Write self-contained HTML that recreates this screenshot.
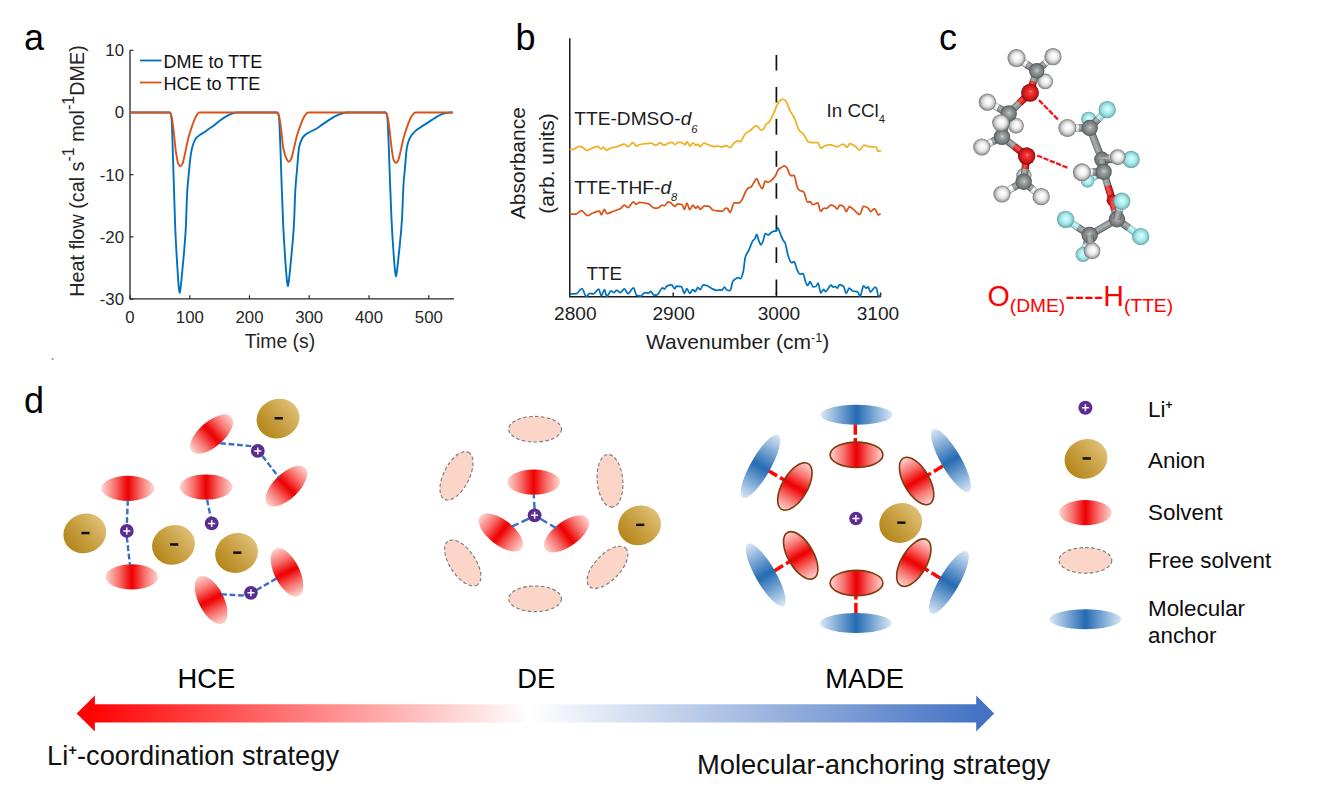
<!DOCTYPE html>
<html lang="en">
<head>
<meta charset="utf-8">
<title>Figure</title>
<style>
html,body{margin:0;padding:0;background:#fff;}
body{width:1320px;height:804px;overflow:hidden;position:relative;}
svg{position:absolute;left:0;top:0;display:block;}
svg text{font-family:"Liberation Sans", sans-serif;}
</style>
</head>
<body>
<svg width="1320" height="804" viewBox="0 0 1320 804">
<defs>
<radialGradient id="gH" cx="0.5" cy="0.5" r="0.5" fx="0.57" fy="0.43"><stop offset="0" stop-color="#ffffff"/><stop offset="0.32" stop-color="#f6f6f6"/><stop offset="0.58" stop-color="#e0e0e0"/><stop offset="0.78" stop-color="#bababa"/><stop offset="0.92" stop-color="#8e8e8e"/><stop offset="1" stop-color="#666666"/></radialGradient>
<radialGradient id="gC" cx="0.5" cy="0.5" r="0.5" fx="0.52" fy="0.47"><stop offset="0" stop-color="#f2f2f2"/><stop offset="0.09" stop-color="#b4b8b8"/><stop offset="0.45" stop-color="#8f9494"/><stop offset="0.78" stop-color="#757a7a"/><stop offset="1" stop-color="#505454"/></radialGradient>
<radialGradient id="gO" cx="0.5" cy="0.5" r="0.5" fx="0.55" fy="0.44"><stop offset="0" stop-color="#ffc0c0"/><stop offset="0.1" stop-color="#f64848"/><stop offset="0.45" stop-color="#e82424"/><stop offset="0.76" stop-color="#c61818"/><stop offset="0.92" stop-color="#9a1010"/><stop offset="1" stop-color="#700a0a"/></radialGradient>
<radialGradient id="gF" cx="0.5" cy="0.5" r="0.5" fx="0.53" fy="0.45"><stop offset="0" stop-color="#ffffff"/><stop offset="0.1" stop-color="#d2fbfb"/><stop offset="0.46" stop-color="#b0efef"/><stop offset="0.74" stop-color="#93d6d8"/><stop offset="0.9" stop-color="#76b9bc"/><stop offset="1" stop-color="#568f93"/></radialGradient>
<filter id="soft" x="-5%" y="-5%" width="110%" height="110%"><feGaussianBlur stdDeviation="0.65"/></filter>
<filter id="soft2" x="-10%" y="-10%" width="120%" height="120%"><feGaussianBlur stdDeviation="0.35"/></filter>
<linearGradient id="gRed" x1="0" y1="0" x2="1" y2="0"><stop offset="0" stop-color="#fdd6d0"/><stop offset="0.25" stop-color="#f87470"/><stop offset="0.485" stop-color="#ee0404"/><stop offset="0.515" stop-color="#ee0404"/><stop offset="0.75" stop-color="#f87470"/><stop offset="1" stop-color="#fdd6d0"/></linearGradient>
<linearGradient id="gBlu" x1="0" y1="0" x2="1" y2="0"><stop offset="0" stop-color="#dce8f5"/><stop offset="0.25" stop-color="#7eaad6"/><stop offset="0.485" stop-color="#296eb3"/><stop offset="0.515" stop-color="#296eb3"/><stop offset="0.75" stop-color="#7eaad6"/><stop offset="1" stop-color="#dce8f5"/></linearGradient>
<linearGradient id="gGold" x1="0.02" y1="0.64" x2="0.98" y2="0.36"><stop offset="0" stop-color="#b4861a"/><stop offset="0.5" stop-color="#c9a043"/><stop offset="1" stop-color="#dfc077"/></linearGradient>
<linearGradient id="gArrow" gradientUnits="userSpaceOnUse" x1="76" y1="0" x2="995" y2="0"><stop offset="0" stop-color="#ff0000"/><stop offset="0.02" stop-color="#ff0505"/><stop offset="0.494" stop-color="#ffffff"/><stop offset="0.98" stop-color="#4573c4"/><stop offset="1" stop-color="#4472c4"/></linearGradient>
</defs>
<rect x="0" y="0" width="1320" height="804" fill="#ffffff"/>
<g id="panelA">
<text x="24" y="49.5" font-size="36" text-anchor="start" fill="#000" >a</text>
<path d="M130,50.3 L130,298.8 L454,298.8" fill="none" stroke="#262626" stroke-width="1.3"/>
<line x1="130" y1="50.3" x2="133.5" y2="50.3" stroke="#262626" stroke-width="1.2"/>
<text x="124.0" y="56.2" font-size="16.8" text-anchor="end" fill="#262626" >10</text>
<line x1="130" y1="112.5" x2="133.5" y2="112.5" stroke="#262626" stroke-width="1.2"/>
<text x="124.0" y="118.4" font-size="16.8" text-anchor="end" fill="#262626" >0</text>
<line x1="130" y1="174.7" x2="133.5" y2="174.7" stroke="#262626" stroke-width="1.2"/>
<text x="124.0" y="180.6" font-size="16.8" text-anchor="end" fill="#262626" >-10</text>
<line x1="130" y1="236.9" x2="133.5" y2="236.9" stroke="#262626" stroke-width="1.2"/>
<text x="124.0" y="242.8" font-size="16.8" text-anchor="end" fill="#262626" >-20</text>
<line x1="130" y1="299.1" x2="133.5" y2="299.1" stroke="#262626" stroke-width="1.2"/>
<text x="124.0" y="305.0" font-size="16.8" text-anchor="end" fill="#262626" >-30</text>
<line x1="130.0" y1="298.8" x2="130.0" y2="295.3" stroke="#262626" stroke-width="1.2"/>
<text x="130.0" y="322.6" font-size="16.8" text-anchor="middle" fill="#262626" >0</text>
<line x1="189.8" y1="298.8" x2="189.8" y2="295.3" stroke="#262626" stroke-width="1.2"/>
<text x="189.8" y="322.6" font-size="16.8" text-anchor="middle" fill="#262626" >100</text>
<line x1="249.5" y1="298.8" x2="249.5" y2="295.3" stroke="#262626" stroke-width="1.2"/>
<text x="249.5" y="322.6" font-size="16.8" text-anchor="middle" fill="#262626" >200</text>
<line x1="309.2" y1="298.8" x2="309.2" y2="295.3" stroke="#262626" stroke-width="1.2"/>
<text x="309.2" y="322.6" font-size="16.8" text-anchor="middle" fill="#262626" >300</text>
<line x1="369.0" y1="298.8" x2="369.0" y2="295.3" stroke="#262626" stroke-width="1.2"/>
<text x="369.0" y="322.6" font-size="16.8" text-anchor="middle" fill="#262626" >400</text>
<line x1="428.8" y1="298.8" x2="428.8" y2="295.3" stroke="#262626" stroke-width="1.2"/>
<text x="428.8" y="322.6" font-size="16.8" text-anchor="middle" fill="#262626" >500</text>
<text x="280" y="347.6" font-size="19.4" text-anchor="middle" fill="#262626" >Time (s)</text>
<text transform="translate(83.5,171) rotate(-90)" font-size="19.8" text-anchor="middle" fill="#262626">Heat flow (cal s<tspan font-size="16" dy="-9.6">-1</tspan><tspan dy="9.6"> mol</tspan><tspan font-size="16" dy="-9.6">-1</tspan><tspan dy="9.6">DME)</tspan></text>
<path d="M130.0,112.5 C143.3,112.5 156.5,112.5 169.8,112.5 C170.2,112.5 170.6,113.4 171.1,114.7 C171.3,115.4 171.5,117.7 171.7,120.5 C172.0,124.9 172.4,138.3 172.7,148.6 C173.0,158.0 173.4,170.1 173.7,180.0 C174.2,197.7 174.8,217.1 175.3,229.8 C176.0,245.6 176.7,256.7 177.4,267.7 C177.9,275.3 178.4,284.2 178.8,288.0 C179.1,290.3 179.4,293.0 179.7,293.0 C180.0,293.0 180.3,290.0 180.5,288.0 C181.2,283.1 181.9,275.1 182.6,267.7 C183.6,256.5 184.7,247.6 185.7,229.8 C186.2,221.2 186.7,199.8 187.2,191.9 C187.7,184.0 188.2,179.8 188.7,174.6 C189.4,167.3 190.1,159.2 190.8,154.7 C191.3,151.7 191.7,149.5 192.2,147.6 C192.7,145.7 193.1,144.3 193.6,143.0 C194.0,141.8 194.5,140.7 194.9,139.9 C195.5,138.9 196.0,138.1 196.6,137.5 C197.3,136.7 198.1,136.2 198.8,135.7 C199.7,135.0 200.7,134.5 201.6,133.9 C202.6,133.3 203.6,132.7 204.6,132.0 C205.6,131.3 206.6,130.5 207.6,129.8 C209.9,128.1 212.2,126.7 214.5,124.9 C216.3,123.5 218.2,121.7 220.0,120.4 C222.5,118.6 225.0,116.9 227.5,115.6 C229.2,114.7 230.8,113.8 232.5,113.3 C233.8,112.9 235.0,112.5 236.3,112.5 C250.0,112.5 263.6,112.5 277.3,112.5 C277.7,112.5 278.1,113.4 278.6,114.7 C278.8,115.4 279.0,117.8 279.2,120.5 C279.6,125.3 280.0,137.1 280.4,147.3 C280.7,156.0 281.1,168.0 281.4,177.5 C282.0,194.6 282.6,213.2 283.2,225.5 C284.0,240.7 284.7,251.7 285.4,262.0 C286.0,269.3 286.5,277.2 287.0,281.3 C287.3,283.5 287.6,286.3 287.9,286.3 C288.2,286.3 288.5,283.3 288.8,281.3 C289.4,276.5 290.1,269.1 290.8,262.0 C291.8,251.2 292.9,242.6 293.9,225.5 C294.4,217.2 294.9,197.0 295.4,189.0 C295.9,180.4 296.5,176.1 297.0,170.0 C297.7,162.4 298.3,151.7 299.0,148.0 C299.4,145.6 299.9,144.3 300.3,143.0 C300.7,141.7 301.2,140.6 301.6,139.7 C302.0,138.8 302.5,138.0 302.9,137.4 C303.4,136.6 304.0,136.0 304.5,135.5 C305.2,134.8 305.9,134.3 306.6,133.8 C307.5,133.2 308.3,132.8 309.2,132.3 C311.6,131.0 313.9,130.2 316.3,128.8 C318.4,127.6 320.4,125.8 322.5,124.4 C325.0,122.7 327.5,120.9 330.0,119.4 C332.5,117.9 335.0,116.3 337.5,115.2 C339.3,114.4 341.0,113.6 342.8,113.2 C344.1,112.9 345.5,112.5 346.8,112.5 C359.8,112.5 372.7,112.5 385.7,112.5 C386.1,112.5 386.5,113.4 386.9,114.7 C387.2,115.4 387.4,117.8 387.6,120.5 C388.0,125.1 388.3,135.9 388.7,145.3 C389.0,153.6 389.4,164.8 389.7,173.8 C390.3,189.9 390.9,207.5 391.5,219.1 C392.2,233.4 392.9,243.8 393.6,253.5 C394.1,260.4 394.6,267.6 395.1,271.5 C395.4,273.7 395.7,276.5 396.0,276.5 C396.3,276.5 396.6,273.4 396.9,271.5 C397.5,266.8 398.2,260.2 398.9,253.5 C399.9,243.5 401.0,235.2 402.0,219.1 C402.5,211.3 403.0,192.1 403.5,184.7 C404.0,177.2 404.5,173.7 405.0,168.0 C405.5,162.0 406.1,153.2 406.6,149.5 C406.9,147.2 407.3,145.7 407.6,144.4 C408.0,142.9 408.3,141.8 408.7,140.8 C409.1,139.7 409.5,138.8 409.9,138.0 C410.4,137.0 410.9,136.2 411.4,135.5 C412.2,134.4 413.0,133.4 413.8,132.6 C414.9,131.4 416.1,130.5 417.2,129.6 C420.5,127.1 423.7,125.2 427.0,123.1 C429.5,121.5 432.0,119.7 434.5,118.2 C437.0,116.7 439.4,115.0 441.9,114.1 C443.2,113.6 444.5,113.2 445.8,113.0 C447.1,112.8 448.5,112.5 449.8,112.5 C450.8,112.5 451.7,112.5 452.7,112.5" fill="none" stroke="#0072BD" stroke-width="1.9" stroke-linejoin="round"/>
<path d="M130.0,112.5 C143.3,112.5 156.5,112.5 169.8,112.5 C170.5,112.5 171.1,115.3 171.8,117.9 C172.3,120.0 172.9,124.5 173.4,128.6 C174.2,134.8 175.0,145.9 175.8,151.2 C176.6,156.3 177.3,161.3 178.1,163.1 C178.8,164.7 179.6,166.3 180.3,166.3 C181.0,166.3 181.8,165.0 182.5,163.6 C183.3,162.2 184.0,157.7 184.8,154.5 C186.0,149.5 187.1,142.8 188.3,138.3 C189.6,133.2 191.0,129.1 192.3,125.4 C193.5,122.2 194.6,118.8 195.8,116.8 C196.9,114.9 198.1,112.5 199.2,112.5 C225.2,112.5 251.3,112.5 277.3,112.5 C278.0,112.5 278.6,115.0 279.3,117.4 C279.8,119.3 280.4,123.5 280.9,127.3 C281.7,133.0 282.5,144.1 283.3,148.0 C284.4,153.4 285.5,156.8 286.6,158.8 C287.3,160.2 288.1,161.8 288.8,161.8 C289.5,161.8 290.3,160.6 291.0,159.3 C291.8,158.0 292.5,153.9 293.3,151.0 C294.5,146.4 295.6,140.2 296.8,136.2 C298.1,131.5 299.5,127.7 300.8,124.3 C302.0,121.4 303.1,118.2 304.3,116.4 C305.5,114.7 306.7,112.5 307.9,112.5 C333.8,112.5 359.8,112.5 385.7,112.5 C386.4,112.5 387.0,115.1 387.7,117.5 C388.2,119.5 388.8,123.8 389.3,127.7 C390.1,133.5 390.9,143.4 391.7,148.9 C392.4,153.4 393.0,158.5 393.7,160.0 C394.4,161.6 395.2,163.0 395.9,163.0 C396.6,163.0 397.4,161.8 398.1,160.5 C398.9,159.1 399.6,154.9 400.4,151.9 C401.6,147.2 402.7,140.9 403.9,136.7 C405.2,132.0 406.6,128.1 407.9,124.6 C409.1,121.6 410.2,118.1 411.4,116.5 C412.8,114.6 414.2,112.5 415.6,112.5 C428.0,112.5 440.3,112.5 452.7,112.5" fill="none" stroke="#D95319" stroke-width="1.9" stroke-linejoin="round"/>
<line x1="140" y1="60.5" x2="161.5" y2="60.5" stroke="#0072BD" stroke-width="1.8"/>
<line x1="140" y1="82.5" x2="161.5" y2="82.5" stroke="#D95319" stroke-width="1.8"/>
<text x="163.5" y="67.5" font-size="18.0" text-anchor="start" fill="#111" >DME to TTE</text>
<text x="163.5" y="89.5" font-size="18.0" text-anchor="start" fill="#111" >HCE to TTE</text>
<rect x="51.5" y="358.6" width="2.2" height="0.9" fill="#3b4a8a"/>
</g>
<g id="panelB">
<text x="515.5" y="49.6" font-size="36" text-anchor="start" fill="#000" >b</text>
<path d="M569.8,38.3 L569.8,296.8 L880.6,296.8" fill="none" stroke="#1a1a1a" stroke-width="1.5"/>
<line x1="673.2" y1="296.8" x2="673.2" y2="292.5" stroke="#1a1a1a" stroke-width="1.4"/>
<line x1="776.4" y1="296.8" x2="776.4" y2="292.5" stroke="#1a1a1a" stroke-width="1.4"/>
<line x1="880.6" y1="296.8" x2="880.6" y2="292.5" stroke="#1a1a1a" stroke-width="1.4"/>
<line x1="776.4" y1="54.9" x2="776.4" y2="296.8" stroke="#111" stroke-width="1.7" stroke-dasharray="15.6 16.47"/>
<path d="M570.5,149.7 C571.7,149.5 572.8,149.5 574.0,149.2 C575.7,148.8 577.3,146.3 579.0,146.3 C580.0,146.3 581.0,146.5 582.0,146.8 C583.7,147.2 585.3,150.6 587.0,150.6 C588.7,150.6 590.3,148.8 592.0,148.2 C594.0,147.4 596.0,146.3 598.0,146.3 C599.0,146.3 600.0,149.2 601.0,149.2 C601.8,149.2 602.7,147.2 603.5,147.2 C604.5,147.2 605.5,150.2 606.5,150.2 C608.0,150.2 609.5,148.4 611.0,148.0 C612.7,147.5 614.3,147.4 616.0,147.0 C617.3,146.7 618.7,146.1 620.0,145.6 C621.3,145.1 622.7,144.2 624.0,144.2 C625.3,144.2 626.7,146.5 628.0,146.5 C629.7,146.5 631.3,142.6 633.0,142.6 C634.0,142.6 635.0,146.0 636.0,146.0 C637.3,146.0 638.7,144.8 640.0,144.5 C642.0,144.1 644.0,143.8 646.0,143.6 C647.7,143.4 649.3,143.2 651.0,143.2 C652.7,143.2 654.3,145.3 656.0,145.3 C657.3,145.3 658.7,142.8 660.0,142.8 C661.3,142.8 662.7,145.2 664.0,145.2 C665.7,145.2 667.3,143.3 669.0,142.9 C670.0,142.6 671.0,142.3 672.0,142.3 C673.0,142.3 674.0,144.6 675.0,144.6 C676.0,144.6 677.0,142.4 678.0,142.4 C679.3,142.4 680.7,142.5 682.0,142.6 C683.0,142.7 684.0,144.8 685.0,144.8 C685.7,144.8 686.3,141.5 687.0,141.5 C688.0,141.5 689.0,146.2 690.0,146.2 C691.0,146.2 692.0,142.9 693.0,142.9 C694.0,142.9 695.0,145.3 696.0,145.3 C696.7,145.3 697.3,144.0 698.0,144.0 C698.7,144.0 699.3,146.6 700.0,146.6 C701.3,146.6 702.7,143.2 704.0,143.2 C705.7,143.2 707.3,144.5 709.0,145.0 C710.7,145.5 712.3,146.5 714.0,146.5 C715.7,146.5 717.3,146.2 719.0,146.2 C719.7,146.2 720.3,147.0 721.0,147.0 C722.7,147.0 724.3,145.7 726.0,145.7 C727.2,145.7 728.5,147.5 729.7,147.5 C731.5,147.5 733.2,143.3 735.0,142.2 C736.0,141.6 737.0,140.7 738.0,140.7 C738.7,140.7 739.3,141.9 740.0,141.9 C741.8,141.9 743.6,135.3 745.4,133.7 C747.1,132.1 748.9,131.5 750.6,130.3 C752.6,128.9 754.6,125.5 756.6,125.5 C758.1,125.5 759.5,130.0 761.0,130.0 C761.8,130.0 762.5,129.7 763.3,129.3 C764.3,128.8 765.3,124.7 766.3,123.9 C767.0,123.3 767.8,123.3 768.5,122.8 C770.2,121.5 772.0,116.7 773.7,113.1 C775.0,110.5 776.2,106.2 777.5,104.2 C778.7,102.2 780.0,100.1 781.2,99.7 C781.9,99.5 782.7,99.3 783.4,99.3 C784.2,99.3 784.9,100.1 785.7,100.9 C787.2,102.4 788.6,108.1 790.1,110.9 C791.6,113.8 793.1,115.3 794.6,118.4 C795.9,121.0 797.1,126.6 798.4,128.8 C799.1,130.1 799.9,131.1 800.6,131.8 C801.3,132.5 802.1,132.6 802.8,133.3 C804.5,134.9 806.3,140.7 808.0,141.5 C809.5,142.2 811.0,142.7 812.5,142.7 C814.3,142.7 816.0,142.7 817.8,142.7 C818.8,142.7 819.7,148.2 820.7,148.2 C822.0,148.2 823.2,146.5 824.5,146.0 C826.5,145.3 828.4,144.5 830.4,144.5 C831.6,144.5 832.8,145.7 834.0,146.0 C835.1,146.3 836.1,146.7 837.2,146.7 C839.2,146.7 841.1,144.0 843.1,144.0 C844.4,144.0 845.6,147.2 846.9,147.2 C847.9,147.2 848.9,143.7 849.9,143.7 C851.6,143.7 853.3,145.0 855.0,146.0 C856.5,146.9 858.1,150.0 859.6,150.0 C861.1,150.0 862.5,145.2 864.0,145.2 C865.8,145.2 867.5,146.6 869.3,146.7 C871.5,146.9 873.8,146.8 876.0,147.0 C876.7,147.1 877.5,151.2 878.2,151.2 C878.9,151.2 879.7,151.1 880.4,151.0" fill="none" stroke="#EDB120" stroke-width="1.75" stroke-linejoin="round" stroke-linecap="round"/>
<path d="M570.5,214.2 C572.3,214.2 574.1,214.2 575.9,214.2 C577.7,214.2 579.6,210.6 581.4,210.6 C583.4,210.6 585.4,215.5 587.4,215.5 C589.2,215.5 591.1,213.6 592.9,213.0 C595.1,212.2 597.3,211.2 599.5,211.2 C600.1,211.2 600.8,214.8 601.4,214.8 C602.4,214.8 603.4,209.4 604.4,209.4 C605.2,209.4 606.0,213.6 606.8,213.6 C609.0,213.6 611.3,212.0 613.5,211.2 C615.7,210.4 618.0,210.0 620.2,208.8 C621.6,208.1 623.0,205.2 624.4,205.2 C625.6,205.2 626.8,207.6 628.0,207.6 C629.8,207.6 631.7,201.9 633.5,201.9 C634.3,201.9 635.1,204.3 635.9,204.3 C637.1,204.3 638.3,202.4 639.5,202.4 C642.5,202.4 645.6,203.1 648.6,203.9 C650.6,204.5 652.7,208.2 654.7,208.2 C655.8,208.2 656.9,208.1 658.0,208.0 C659.3,207.9 660.7,205.2 662.0,205.2 C662.8,205.2 663.6,205.8 664.4,205.8 C665.6,205.8 666.8,201.9 668.0,201.9 C669.0,201.9 670.0,202.5 671.0,203.0 C672.2,203.6 673.5,206.4 674.7,206.4 C675.7,206.4 676.7,203.9 677.7,203.9 C679.1,203.9 680.6,204.1 682.0,204.5 C682.8,204.7 683.6,209.4 684.4,209.4 C685.2,209.4 686.0,203.1 686.8,203.1 C687.8,203.1 688.8,209.6 689.8,209.6 C690.8,209.6 691.9,205.2 692.9,205.2 C693.9,205.2 694.9,208.2 695.9,208.2 C696.5,208.2 697.1,206.0 697.7,206.0 C698.5,206.0 699.4,209.4 700.2,209.4 C701.6,209.4 703.0,205.8 704.4,205.8 C706.0,205.8 707.6,206.0 709.2,206.4 C710.4,206.7 711.7,209.6 712.9,210.0 C714.3,210.4 715.6,210.6 717.0,210.8 C718.5,211.0 719.9,211.2 721.4,211.2 C721.8,211.2 722.2,211.2 722.6,211.2 C723.7,211.2 724.7,208.0 725.8,208.0 C726.4,208.0 727.1,208.3 727.7,208.6 C728.5,209.0 729.2,212.5 730.0,212.5 C731.4,212.5 732.8,202.8 734.2,202.8 C735.9,202.8 737.6,202.8 739.3,202.8 C740.4,202.8 741.4,200.6 742.5,198.9 C743.6,197.1 744.7,192.9 745.8,191.2 C746.9,189.6 747.9,188.0 749.0,187.6 C749.6,187.3 750.3,187.4 750.9,187.1 C751.8,186.7 752.6,184.5 753.5,183.2 C754.6,181.6 755.6,178.6 756.7,178.6 C757.6,178.6 758.4,182.5 759.3,184.1 C760.3,185.8 761.2,188.6 762.2,188.6 C763.2,188.6 764.3,181.2 765.3,181.2 C766.3,181.2 767.3,182.2 768.3,182.2 C769.4,182.2 770.4,181.1 771.5,180.3 C772.8,179.3 774.1,177.8 775.4,175.8 C776.3,174.5 777.1,171.0 778.0,170.0 C778.8,169.0 779.7,168.6 780.5,168.0 C781.8,167.1 783.1,165.8 784.4,165.8 C785.3,165.8 786.1,167.0 787.0,168.0 C788.1,169.3 789.1,174.5 790.2,175.1 C790.8,175.5 791.5,175.8 792.1,175.8 C792.7,175.8 793.4,175.1 794.0,175.1 C795.1,175.1 796.2,185.2 797.3,187.3 C798.1,188.9 799.0,190.1 799.8,190.6 C801.1,191.3 802.4,191.1 803.7,191.9 C805.0,192.7 806.3,202.2 807.6,202.2 C808.4,202.2 809.3,201.5 810.1,201.5 C811.0,201.5 811.8,204.7 812.7,204.7 C814.4,204.7 816.2,202.8 817.9,202.8 C818.8,202.8 819.6,211.2 820.5,211.2 C821.8,211.2 823.0,208.0 824.3,208.0 C824.9,208.0 825.6,208.6 826.2,208.6 C827.7,208.6 829.3,205.1 830.8,205.1 C832.1,205.1 833.3,205.7 834.6,206.4 C835.5,206.9 836.3,209.0 837.2,209.0 C838.1,209.0 838.9,205.1 839.8,205.1 C841.1,205.1 842.3,205.6 843.6,206.4 C844.5,206.9 845.3,211.6 846.2,211.6 C847.3,211.6 848.3,206.7 849.4,206.7 C850.9,206.7 852.4,208.8 853.9,209.9 C855.8,211.3 857.8,214.4 859.7,214.4 C861.0,214.4 862.3,206.4 863.6,206.4 C865.1,206.4 866.6,207.1 868.1,208.0 C869.0,208.5 869.8,211.6 870.7,211.6 C872.0,211.6 873.2,208.6 874.5,208.6 C875.8,208.6 877.1,214.8 878.4,214.8 C878.9,214.8 879.5,214.3 880.0,214.1" fill="none" stroke="#D95319" stroke-width="1.75" stroke-linejoin="round" stroke-linecap="round"/>
<path d="M570.5,293.9 C572.5,293.8 574.5,293.8 576.5,293.7 C578.3,293.6 580.2,288.5 582.0,288.5 C583.4,288.5 584.8,296.4 586.2,296.4 C587.4,296.4 588.6,293.3 589.8,293.3 C591.0,293.3 592.3,293.9 593.5,293.9 C595.2,293.9 597.0,289.1 598.7,289.1 C599.6,289.1 600.5,295.8 601.4,295.8 C602.4,295.8 603.4,289.7 604.4,289.7 C605.2,289.7 606.0,296.4 606.8,296.4 C608.2,296.4 609.6,290.9 611.0,290.9 C612.0,290.9 613.1,292.7 614.1,292.7 C614.9,292.7 615.7,290.0 616.5,290.0 C617.7,290.0 619.0,292.7 620.2,292.7 C621.6,292.7 623.0,288.8 624.4,288.8 C625.6,288.8 626.8,293.7 628.0,293.7 C629.8,293.7 631.7,287.9 633.5,287.9 C634.5,287.9 635.5,294.8 636.5,295.2 C637.9,295.8 639.4,296.1 640.8,296.1 C642.2,296.1 643.6,292.5 645.0,292.5 C646.2,292.5 647.4,293.1 648.6,293.1 C649.2,293.1 649.9,291.3 650.5,291.3 C651.7,291.3 652.9,295.2 654.1,295.2 C655.1,295.2 656.1,295.1 657.1,294.9 C658.9,294.6 660.8,287.9 662.6,287.9 C663.2,287.9 663.8,289.1 664.4,289.1 C665.2,289.1 666.0,286.5 666.8,286.1 C668.4,285.3 670.1,284.8 671.7,284.8 C672.7,284.8 673.7,288.8 674.7,288.8 C675.3,288.8 675.9,286.1 676.5,286.1 C678.1,286.1 679.8,286.3 681.4,286.7 C682.4,286.9 683.4,293.3 684.4,293.3 C685.2,293.3 686.0,288.5 686.8,288.5 C687.8,288.5 688.8,293.3 689.8,293.3 C690.8,293.3 691.9,289.7 692.9,289.7 C693.7,289.7 694.5,291.5 695.3,291.5 C696.1,291.5 696.9,287.3 697.7,287.3 C698.5,287.3 699.4,289.7 700.2,289.7 C701.2,289.7 702.2,284.8 703.2,284.8 C704.4,284.8 705.6,285.2 706.8,285.5 C708.4,286.0 710.1,287.7 711.7,288.5 C713.3,289.2 714.9,290.3 716.5,290.3 C717.3,290.3 718.2,289.8 719.0,289.8 C720.0,289.8 720.9,290.1 721.9,290.1 C722.8,290.1 723.6,287.1 724.5,287.1 C725.1,287.1 725.8,289.4 726.4,289.7 C727.6,290.3 728.8,290.7 730.0,290.7 C731.0,290.7 731.9,282.6 732.9,281.3 C733.8,280.1 734.6,279.6 735.5,279.0 C736.3,278.4 737.2,277.5 738.0,277.5 C738.9,277.5 739.7,278.7 740.6,278.7 C741.5,278.7 742.3,275.1 743.2,271.7 C743.9,268.8 744.7,259.2 745.4,256.9 C746.6,253.1 747.8,252.4 749.0,249.8 C750.3,247.1 751.5,242.5 752.8,240.8 C753.5,239.9 754.1,239.7 754.8,238.8 C755.4,237.9 756.1,234.3 756.7,234.3 C757.3,234.3 758.0,238.6 758.6,240.1 C759.4,242.0 760.2,244.9 761.0,244.9 C761.7,244.9 762.4,242.5 763.1,240.8 C763.8,239.0 764.6,233.7 765.3,233.7 C766.3,233.7 767.3,235.0 768.3,235.0 C769.2,235.0 770.0,233.4 770.9,232.8 C772.0,232.1 773.0,231.1 774.1,231.1 C774.8,231.1 775.6,231.1 776.3,231.1 C776.8,231.1 777.2,227.9 777.7,227.9 C778.6,227.9 779.6,232.2 780.5,234.3 C781.4,236.3 782.2,238.6 783.1,240.1 C783.7,241.2 784.4,241.5 785.0,242.7 C786.1,244.9 787.2,253.2 788.3,256.2 C789.4,259.1 790.4,262.7 791.5,262.7 C792.3,262.7 793.2,261.6 794.0,261.6 C795.1,261.6 796.2,268.3 797.3,270.4 C798.1,272.0 799.0,274.2 799.8,274.2 C800.9,274.2 802.0,273.6 803.1,273.6 C803.9,273.6 804.8,280.1 805.6,282.0 C806.3,283.5 806.9,285.6 807.6,285.6 C808.4,285.6 809.3,281.7 810.1,281.7 C811.1,281.7 812.0,286.9 813.0,286.9 C814.0,286.9 814.9,286.8 815.9,286.5 C816.6,286.3 817.4,283.0 818.1,283.0 C819.0,283.0 819.8,292.9 820.7,292.9 C821.7,292.9 822.7,289.4 823.7,289.4 C824.3,289.4 825.0,291.6 825.6,291.6 C827.4,291.6 829.2,285.2 831.0,285.2 C831.8,285.2 832.5,287.1 833.3,287.1 C834.0,287.1 834.6,286.5 835.3,286.5 C835.9,286.5 836.6,288.1 837.2,288.1 C838.1,288.1 838.9,284.5 839.8,284.5 C841.1,284.5 842.3,285.3 843.6,286.5 C844.5,287.3 845.3,293.3 846.2,293.3 C847.2,293.3 848.2,288.1 849.2,288.1 C850.3,288.1 851.5,290.6 852.6,291.0 C854.3,291.6 856.1,291.3 857.8,292.0 C858.6,292.3 859.3,296.4 860.1,296.4 C861.3,296.4 862.4,285.8 863.6,285.8 C864.5,285.8 865.3,288.1 866.2,288.1 C866.8,288.1 867.5,286.9 868.1,286.9 C868.9,286.9 869.6,292.0 870.4,292.0 C872.0,292.0 873.6,287.1 875.2,287.1 C875.6,287.1 876.1,287.7 876.5,288.4 C877.1,289.4 877.8,296.1 878.4,296.1 C879.0,296.1 879.5,295.7 880.1,295.5" fill="none" stroke="#0072BD" stroke-width="1.75" stroke-linejoin="round" stroke-linecap="round"/>
<text x="574.3" y="125.4" font-size="19.15" fill="#1d1d1d">TTE-DMSO-<tspan font-style="italic">d</tspan><tspan font-style="italic" font-size="11.4" dy="7.2">6</tspan></text>
<text x="574.3" y="193.9" font-size="19.15" fill="#1d1d1d">TTE-THF-<tspan font-style="italic">d</tspan><tspan font-style="italic" font-size="11.2" dy="7.0">8</tspan></text>
<text x="586.6" y="279.6" font-size="18.8" text-anchor="start" fill="#1d1d1d" >TTE</text>
<text x="826.6" y="116.9" font-size="18.8" fill="#1d1d1d">In CCl<tspan font-size="11.3" dy="5.9">4</tspan></text>
<text x="575.3" y="320.1" font-size="19.1" text-anchor="middle" fill="#1d1d1d" >2800</text>
<text x="673.7" y="320.1" font-size="19.1" text-anchor="middle" fill="#1d1d1d" >2900</text>
<text x="778.9" y="320.1" font-size="19.1" text-anchor="middle" fill="#1d1d1d" >3000</text>
<text x="878.0" y="320.1" font-size="19.1" text-anchor="middle" fill="#1d1d1d" >3100</text>
<text x="737.6" y="348.9" font-size="21" text-anchor="middle" fill="#1d1d1d">Wavenumber (cm<tspan font-size="12.5" dy="-7.4">-1</tspan><tspan dy="7.4">)</tspan></text>
<text transform="translate(525.2,163.2) rotate(-90)" font-size="21" text-anchor="middle" fill="#1d1d1d">Absorbance</text>
<text transform="translate(554.1,163.5) rotate(-90)" font-size="21" text-anchor="middle" fill="#1d1d1d">(arb. units)</text>
</g>
<g id="panelC">
<text x="939" y="49.5" font-size="36" text-anchor="start" fill="#000" >c</text>
<g filter="url(#soft)">
<line x1="1036.7" y1="70.8" x2="1041.0" y2="76.1" stroke="#5e6262" stroke-width="7.4"/><line x1="1036.5" y1="71.0" x2="1040.7" y2="76.3" stroke="#8d9292" stroke-width="5.9"/><line x1="1036.2" y1="71.2" x2="1040.4" y2="76.5" stroke="#a6abab" stroke-width="2.8000000000000007"/><line x1="1041.0" y1="76.1" x2="1045.2" y2="81.4" stroke="#a4a4a4" stroke-width="7.4"/><line x1="1040.7" y1="76.3" x2="1045.0" y2="81.6" stroke="#e6e6e6" stroke-width="5.9"/><line x1="1040.4" y1="76.5" x2="1044.7" y2="81.8" stroke="#fbfbfb" stroke-width="2.8000000000000007"/>
<circle cx="1045.2" cy="81.4" r="7.8" fill="url(#gH)"/>
<line x1="1016.5" y1="58.1" x2="1026.6" y2="64.5" stroke="#a4a4a4" stroke-width="7.4"/><line x1="1016.6" y1="57.9" x2="1026.7" y2="64.2" stroke="#e6e6e6" stroke-width="5.9"/><line x1="1016.9" y1="57.5" x2="1027.0" y2="63.9" stroke="#fbfbfb" stroke-width="2.8000000000000007"/><line x1="1026.6" y1="64.5" x2="1036.7" y2="70.8" stroke="#5e6262" stroke-width="7.4"/><line x1="1026.7" y1="64.2" x2="1036.8" y2="70.6" stroke="#8d9292" stroke-width="5.9"/><line x1="1027.0" y1="63.9" x2="1037.1" y2="70.2" stroke="#a6abab" stroke-width="2.8000000000000007"/>
<line x1="1053.0" y1="56.7" x2="1044.8" y2="63.8" stroke="#a4a4a4" stroke-width="7.4"/><line x1="1052.8" y1="56.5" x2="1044.7" y2="63.5" stroke="#e6e6e6" stroke-width="5.9"/><line x1="1052.5" y1="56.2" x2="1044.4" y2="63.2" stroke="#fbfbfb" stroke-width="2.8000000000000007"/><line x1="1044.8" y1="63.8" x2="1036.7" y2="70.8" stroke="#5e6262" stroke-width="7.4"/><line x1="1044.7" y1="63.5" x2="1036.5" y2="70.6" stroke="#8d9292" stroke-width="5.9"/><line x1="1044.4" y1="63.2" x2="1036.2" y2="70.3" stroke="#a6abab" stroke-width="2.8000000000000007"/>
<line x1="1036.7" y1="70.8" x2="1033.3" y2="81.8" stroke="#5e6262" stroke-width="7.4"/><line x1="1036.4" y1="70.7" x2="1033.1" y2="81.7" stroke="#8d9292" stroke-width="5.9"/><line x1="1036.0" y1="70.6" x2="1032.7" y2="81.6" stroke="#a6abab" stroke-width="2.8000000000000007"/><line x1="1033.3" y1="81.8" x2="1030.0" y2="92.8" stroke="#8e0c0c" stroke-width="7.4"/><line x1="1033.1" y1="81.7" x2="1029.7" y2="92.7" stroke="#e02626" stroke-width="5.9"/><line x1="1032.7" y1="81.6" x2="1029.3" y2="92.6" stroke="#f24a4a" stroke-width="2.8000000000000007"/>
<circle cx="1016.5" cy="58.1" r="9.0" fill="url(#gH)"/>
<circle cx="1053.0" cy="56.7" r="8.6" fill="url(#gH)"/>
<circle cx="1036.7" cy="70.8" r="7.7" fill="url(#gC)"/>
<line x1="1030.0" y1="92.8" x2="1019.4" y2="103.1" stroke="#8e0c0c" stroke-width="7.4"/><line x1="1029.8" y1="92.6" x2="1019.2" y2="102.9" stroke="#e02626" stroke-width="5.9"/><line x1="1029.5" y1="92.3" x2="1018.9" y2="102.6" stroke="#f24a4a" stroke-width="2.8000000000000007"/><line x1="1019.4" y1="103.1" x2="1008.7" y2="113.4" stroke="#5e6262" stroke-width="7.4"/><line x1="1019.2" y1="102.9" x2="1008.5" y2="113.2" stroke="#8d9292" stroke-width="5.9"/><line x1="1018.9" y1="102.6" x2="1008.2" y2="112.9" stroke="#a6abab" stroke-width="2.8000000000000007"/>
<circle cx="1030.0" cy="92.8" r="9.0" fill="url(#gO)"/>
<line x1="1008.7" y1="113.4" x2="1012.4" y2="119.6" stroke="#5e6262" stroke-width="7.4"/><line x1="1008.5" y1="113.5" x2="1012.1" y2="119.7" stroke="#8d9292" stroke-width="5.9"/><line x1="1008.1" y1="113.8" x2="1011.7" y2="119.9" stroke="#a6abab" stroke-width="2.8000000000000007"/><line x1="1012.4" y1="119.6" x2="1016.0" y2="125.7" stroke="#a4a4a4" stroke-width="7.4"/><line x1="1012.1" y1="119.7" x2="1015.8" y2="125.8" stroke="#e6e6e6" stroke-width="5.9"/><line x1="1011.7" y1="119.9" x2="1015.4" y2="126.1" stroke="#fbfbfb" stroke-width="2.8000000000000007"/>
<circle cx="1016.0" cy="125.7" r="7.8" fill="url(#gH)"/>
<line x1="987.4" y1="102.2" x2="998.0" y2="107.8" stroke="#a4a4a4" stroke-width="7.4"/><line x1="987.5" y1="102.0" x2="998.2" y2="107.6" stroke="#e6e6e6" stroke-width="5.9"/><line x1="987.7" y1="101.6" x2="998.4" y2="107.2" stroke="#fbfbfb" stroke-width="2.8000000000000007"/><line x1="998.0" y1="107.8" x2="1008.7" y2="113.4" stroke="#5e6262" stroke-width="7.4"/><line x1="998.2" y1="107.6" x2="1008.8" y2="113.2" stroke="#8d9292" stroke-width="5.9"/><line x1="998.4" y1="107.2" x2="1009.0" y2="112.8" stroke="#a6abab" stroke-width="2.8000000000000007"/>
<line x1="1008.7" y1="113.4" x2="1005.4" y2="125.2" stroke="#5e6262" stroke-width="7.4"/><line x1="1008.4" y1="113.3" x2="1005.1" y2="125.1" stroke="#8d9292" stroke-width="5.9"/><line x1="1008.0" y1="113.2" x2="1004.7" y2="125.0" stroke="#a6abab" stroke-width="2.8000000000000007"/><line x1="1005.4" y1="125.2" x2="1002.0" y2="136.9" stroke="#5e6262" stroke-width="7.4"/><line x1="1005.1" y1="125.1" x2="1001.7" y2="136.8" stroke="#8d9292" stroke-width="5.9"/><line x1="1004.7" y1="125.0" x2="1001.3" y2="136.7" stroke="#a6abab" stroke-width="2.8000000000000007"/>
<circle cx="987.4" cy="102.2" r="8.6" fill="url(#gH)"/>
<circle cx="1008.7" cy="113.4" r="8.2" fill="url(#gC)"/>
<line x1="1002.0" y1="136.9" x2="991.9" y2="141.9" stroke="#5e6262" stroke-width="7.4"/><line x1="1001.9" y1="136.6" x2="991.8" y2="141.7" stroke="#8d9292" stroke-width="5.9"/><line x1="1001.7" y1="136.3" x2="991.6" y2="141.3" stroke="#a6abab" stroke-width="2.8000000000000007"/><line x1="991.9" y1="141.9" x2="981.8" y2="147.0" stroke="#a4a4a4" stroke-width="7.4"/><line x1="991.8" y1="141.7" x2="981.7" y2="146.7" stroke="#e6e6e6" stroke-width="5.9"/><line x1="991.6" y1="141.3" x2="981.5" y2="146.4" stroke="#fbfbfb" stroke-width="2.8000000000000007"/>
<line x1="1002.0" y1="136.9" x2="1014.3" y2="146.4" stroke="#5e6262" stroke-width="7.4"/><line x1="1002.2" y1="136.7" x2="1014.5" y2="146.2" stroke="#8d9292" stroke-width="5.9"/><line x1="1002.4" y1="136.3" x2="1014.7" y2="145.9" stroke="#a6abab" stroke-width="2.8000000000000007"/><line x1="1014.3" y1="146.4" x2="1026.6" y2="156.0" stroke="#8e0c0c" stroke-width="7.4"/><line x1="1014.5" y1="146.2" x2="1026.8" y2="155.8" stroke="#e02626" stroke-width="5.9"/><line x1="1014.7" y1="145.9" x2="1027.0" y2="155.4" stroke="#f24a4a" stroke-width="2.8000000000000007"/>
<circle cx="1002.0" cy="136.9" r="8.2" fill="url(#gC)"/>
<circle cx="981.8" cy="147.0" r="8.6" fill="url(#gH)"/>
<circle cx="1000.8" cy="122.8" r="8.6" fill="url(#gH)"/>
<circle cx="1023.9" cy="175.6" r="7.6" fill="url(#gH)"/>
<line x1="1026.6" y1="156.0" x2="1025.2" y2="168.8" stroke="#8e0c0c" stroke-width="7.4"/><line x1="1026.3" y1="156.0" x2="1024.9" y2="168.8" stroke="#e02626" stroke-width="5.9"/><line x1="1025.9" y1="155.9" x2="1024.5" y2="168.8" stroke="#f24a4a" stroke-width="2.8000000000000007"/><line x1="1025.2" y1="168.8" x2="1023.7" y2="181.7" stroke="#5e6262" stroke-width="7.4"/><line x1="1024.9" y1="168.8" x2="1023.4" y2="181.7" stroke="#8d9292" stroke-width="5.9"/><line x1="1024.5" y1="168.8" x2="1023.0" y2="181.6" stroke="#a6abab" stroke-width="2.8000000000000007"/>
<circle cx="1026.6" cy="156.0" r="8.7" fill="url(#gO)"/>
<line x1="1023.7" y1="181.7" x2="1012.9" y2="187.8" stroke="#5e6262" stroke-width="7.4"/><line x1="1023.6" y1="181.5" x2="1012.7" y2="187.6" stroke="#8d9292" stroke-width="5.9"/><line x1="1023.4" y1="181.1" x2="1012.5" y2="187.2" stroke="#a6abab" stroke-width="2.8000000000000007"/><line x1="1012.9" y1="187.8" x2="1002.0" y2="194.0" stroke="#a4a4a4" stroke-width="7.4"/><line x1="1012.7" y1="187.6" x2="1001.9" y2="193.8" stroke="#e6e6e6" stroke-width="5.9"/><line x1="1012.5" y1="187.2" x2="1001.7" y2="193.4" stroke="#fbfbfb" stroke-width="2.8000000000000007"/>
<line x1="1023.7" y1="181.7" x2="1032.5" y2="189.2" stroke="#5e6262" stroke-width="7.4"/><line x1="1023.9" y1="181.5" x2="1032.6" y2="189.0" stroke="#8d9292" stroke-width="5.9"/><line x1="1024.2" y1="181.2" x2="1032.9" y2="188.7" stroke="#a6abab" stroke-width="2.8000000000000007"/><line x1="1032.5" y1="189.2" x2="1041.2" y2="196.7" stroke="#a4a4a4" stroke-width="7.4"/><line x1="1032.6" y1="189.0" x2="1041.4" y2="196.5" stroke="#e6e6e6" stroke-width="5.9"/><line x1="1032.9" y1="188.7" x2="1041.7" y2="196.2" stroke="#fbfbfb" stroke-width="2.8000000000000007"/>
<circle cx="1023.7" cy="181.7" r="8.2" fill="url(#gC)"/>
<circle cx="1002.0" cy="194.0" r="8.6" fill="url(#gH)"/>
<circle cx="1041.2" cy="196.7" r="8.6" fill="url(#gH)"/>
<line x1="1089.7" y1="128.0" x2="1089.2" y2="123.5" stroke="#5e6262" stroke-width="7.4"/><line x1="1089.4" y1="128.0" x2="1088.9" y2="123.6" stroke="#8d9292" stroke-width="5.9"/><line x1="1089.0" y1="128.1" x2="1088.5" y2="123.6" stroke="#a6abab" stroke-width="2.8000000000000007"/><line x1="1089.2" y1="123.5" x2="1088.6" y2="119.1" stroke="#73b4b9" stroke-width="7.4"/><line x1="1088.9" y1="123.6" x2="1088.3" y2="119.1" stroke="#a5e3e6" stroke-width="5.9"/><line x1="1088.5" y1="123.6" x2="1087.9" y2="119.2" stroke="#c4f4f5" stroke-width="2.8000000000000007"/>
<circle cx="1088.6" cy="119.1" r="7.4" fill="url(#gF)"/>
<line x1="1089.7" y1="128.0" x2="1098.5" y2="118.8" stroke="#5e6262" stroke-width="7.4"/><line x1="1089.5" y1="127.8" x2="1098.2" y2="118.7" stroke="#8d9292" stroke-width="5.9"/><line x1="1089.2" y1="127.5" x2="1097.9" y2="118.4" stroke="#a6abab" stroke-width="2.8000000000000007"/><line x1="1098.5" y1="118.8" x2="1107.2" y2="109.7" stroke="#73b4b9" stroke-width="7.4"/><line x1="1098.2" y1="118.7" x2="1107.0" y2="109.5" stroke="#a5e3e6" stroke-width="5.9"/><line x1="1097.9" y1="118.4" x2="1106.7" y2="109.2" stroke="#c4f4f5" stroke-width="2.8000000000000007"/>
<line x1="1089.7" y1="128.0" x2="1078.6" y2="128.0" stroke="#5e6262" stroke-width="7.4"/><line x1="1089.7" y1="127.7" x2="1078.6" y2="127.7" stroke="#8d9292" stroke-width="5.9"/><line x1="1089.7" y1="127.3" x2="1078.6" y2="127.3" stroke="#a6abab" stroke-width="2.8000000000000007"/><line x1="1078.6" y1="128.0" x2="1067.4" y2="128.0" stroke="#a4a4a4" stroke-width="7.4"/><line x1="1078.6" y1="127.7" x2="1067.4" y2="127.7" stroke="#e6e6e6" stroke-width="5.9"/><line x1="1078.6" y1="127.3" x2="1067.4" y2="127.3" stroke="#fbfbfb" stroke-width="2.8000000000000007"/>
<line x1="1089.7" y1="128.0" x2="1095.8" y2="143.7" stroke="#5e6262" stroke-width="7.4"/><line x1="1089.4" y1="128.1" x2="1095.6" y2="143.8" stroke="#8d9292" stroke-width="5.9"/><line x1="1089.0" y1="128.3" x2="1095.2" y2="144.0" stroke="#a6abab" stroke-width="2.8000000000000007"/><line x1="1095.8" y1="143.7" x2="1102.0" y2="159.4" stroke="#5e6262" stroke-width="7.4"/><line x1="1095.6" y1="143.8" x2="1101.7" y2="159.5" stroke="#8d9292" stroke-width="5.9"/><line x1="1095.2" y1="144.0" x2="1101.3" y2="159.7" stroke="#a6abab" stroke-width="2.8000000000000007"/>
<circle cx="1107.2" cy="109.7" r="8.6" fill="url(#gF)"/>
<circle cx="1089.7" cy="128.0" r="8.2" fill="url(#gC)"/>
<circle cx="1067.4" cy="128.0" r="9.0" fill="url(#gH)"/>
<line x1="1103.6" y1="171.7" x2="1095.5" y2="176.1" stroke="#5e6262" stroke-width="7.4"/><line x1="1103.5" y1="171.5" x2="1095.4" y2="175.9" stroke="#8d9292" stroke-width="5.9"/><line x1="1103.3" y1="171.1" x2="1095.2" y2="175.5" stroke="#a6abab" stroke-width="2.8000000000000007"/><line x1="1095.5" y1="176.1" x2="1087.5" y2="180.6" stroke="#73b4b9" stroke-width="7.4"/><line x1="1095.4" y1="175.9" x2="1087.4" y2="180.4" stroke="#a5e3e6" stroke-width="5.9"/><line x1="1095.2" y1="175.5" x2="1087.2" y2="180.0" stroke="#c4f4f5" stroke-width="2.8000000000000007"/>
<circle cx="1087.5" cy="180.6" r="6.8" fill="url(#gF)"/>
<line x1="1102.0" y1="159.4" x2="1116.5" y2="159.4" stroke="#5e6262" stroke-width="7.4"/><line x1="1102.0" y1="159.1" x2="1116.5" y2="159.1" stroke="#8d9292" stroke-width="5.9"/><line x1="1102.0" y1="158.7" x2="1116.5" y2="158.7" stroke="#a6abab" stroke-width="2.8000000000000007"/><line x1="1116.5" y1="159.4" x2="1131.1" y2="159.4" stroke="#73b4b9" stroke-width="7.4"/><line x1="1116.5" y1="159.1" x2="1131.1" y2="159.1" stroke="#a5e3e6" stroke-width="5.9"/><line x1="1116.5" y1="158.7" x2="1131.1" y2="158.7" stroke="#c4f4f5" stroke-width="2.8000000000000007"/>
<circle cx="1131.1" cy="159.4" r="8.6" fill="url(#gF)"/>
<circle cx="1102.0" cy="159.4" r="7.8" fill="url(#gC)"/>
<line x1="1102.0" y1="159.4" x2="1109.8" y2="158.2" stroke="#5e6262" stroke-width="7.4"/><line x1="1102.0" y1="159.1" x2="1109.8" y2="158.0" stroke="#8d9292" stroke-width="5.9"/><line x1="1101.9" y1="158.7" x2="1109.7" y2="157.6" stroke="#a6abab" stroke-width="2.8000000000000007"/><line x1="1109.8" y1="158.2" x2="1117.7" y2="157.1" stroke="#a4a4a4" stroke-width="7.4"/><line x1="1109.8" y1="158.0" x2="1117.7" y2="156.8" stroke="#e6e6e6" stroke-width="5.9"/><line x1="1109.7" y1="157.6" x2="1117.6" y2="156.4" stroke="#fbfbfb" stroke-width="2.8000000000000007"/>
<circle cx="1117.7" cy="157.1" r="7.9" fill="url(#gH)"/>
<line x1="1102.0" y1="159.4" x2="1102.8" y2="165.6" stroke="#5e6262" stroke-width="7.4"/><line x1="1101.7" y1="159.4" x2="1102.5" y2="165.6" stroke="#8d9292" stroke-width="5.9"/><line x1="1101.3" y1="159.5" x2="1102.1" y2="165.6" stroke="#a6abab" stroke-width="2.8000000000000007"/><line x1="1102.8" y1="165.6" x2="1103.6" y2="171.7" stroke="#5e6262" stroke-width="7.4"/><line x1="1102.5" y1="165.6" x2="1103.3" y2="171.7" stroke="#8d9292" stroke-width="5.9"/><line x1="1102.1" y1="165.6" x2="1102.9" y2="171.8" stroke="#a6abab" stroke-width="2.8000000000000007"/>
<line x1="1103.6" y1="171.7" x2="1108.0" y2="186.0" stroke="#5e6262" stroke-width="7.4"/><line x1="1103.3" y1="171.8" x2="1107.7" y2="186.1" stroke="#8d9292" stroke-width="5.9"/><line x1="1102.9" y1="171.9" x2="1107.3" y2="186.2" stroke="#a6abab" stroke-width="2.8000000000000007"/><line x1="1108.0" y1="186.0" x2="1112.4" y2="200.3" stroke="#8e0c0c" stroke-width="7.4"/><line x1="1107.7" y1="186.1" x2="1112.1" y2="200.4" stroke="#e02626" stroke-width="5.9"/><line x1="1107.3" y1="186.2" x2="1111.7" y2="200.5" stroke="#f24a4a" stroke-width="2.8000000000000007"/>
<line x1="1103.6" y1="171.7" x2="1092.8" y2="172.0" stroke="#5e6262" stroke-width="7.4"/><line x1="1103.6" y1="171.4" x2="1092.7" y2="171.7" stroke="#8d9292" stroke-width="5.9"/><line x1="1103.6" y1="171.0" x2="1092.7" y2="171.3" stroke="#a6abab" stroke-width="2.8000000000000007"/><line x1="1092.8" y1="172.0" x2="1081.9" y2="172.3" stroke="#a4a4a4" stroke-width="7.4"/><line x1="1092.7" y1="171.7" x2="1081.9" y2="172.0" stroke="#e6e6e6" stroke-width="5.9"/><line x1="1092.7" y1="171.3" x2="1081.9" y2="171.6" stroke="#fbfbfb" stroke-width="2.8000000000000007"/>
<circle cx="1103.6" cy="171.7" r="8.2" fill="url(#gC)"/>
<circle cx="1081.9" cy="172.3" r="9.0" fill="url(#gH)"/>
<circle cx="1112.4" cy="200.3" r="5.8" fill="url(#gO)"/>
<line x1="1112.4" y1="200.3" x2="1114.7" y2="209.8" stroke="#8e0c0c" stroke-width="7.4"/><line x1="1112.1" y1="200.4" x2="1114.4" y2="209.9" stroke="#e02626" stroke-width="5.9"/><line x1="1111.7" y1="200.5" x2="1114.0" y2="210.0" stroke="#f24a4a" stroke-width="2.8000000000000007"/><line x1="1114.7" y1="209.8" x2="1117.0" y2="219.3" stroke="#5e6262" stroke-width="7.4"/><line x1="1114.4" y1="209.9" x2="1116.7" y2="219.4" stroke="#8d9292" stroke-width="5.9"/><line x1="1114.0" y1="210.0" x2="1116.3" y2="219.5" stroke="#a6abab" stroke-width="2.8000000000000007"/>
<line x1="1089.7" y1="235.0" x2="1086.3" y2="244.7" stroke="#5e6262" stroke-width="7.4"/><line x1="1089.4" y1="234.9" x2="1086.1" y2="244.6" stroke="#8d9292" stroke-width="5.9"/><line x1="1089.0" y1="234.8" x2="1085.7" y2="244.5" stroke="#a6abab" stroke-width="2.8000000000000007"/><line x1="1086.3" y1="244.7" x2="1083.0" y2="254.4" stroke="#73b4b9" stroke-width="7.4"/><line x1="1086.1" y1="244.6" x2="1082.7" y2="254.3" stroke="#a5e3e6" stroke-width="5.9"/><line x1="1085.7" y1="244.5" x2="1082.3" y2="254.2" stroke="#c4f4f5" stroke-width="2.8000000000000007"/>
<circle cx="1083.0" cy="254.4" r="7.4" fill="url(#gF)"/>
<line x1="1117.0" y1="219.3" x2="1103.3" y2="227.2" stroke="#5e6262" stroke-width="7.4"/><line x1="1116.9" y1="219.1" x2="1103.2" y2="226.9" stroke="#8d9292" stroke-width="5.9"/><line x1="1116.7" y1="218.7" x2="1103.0" y2="226.5" stroke="#a6abab" stroke-width="2.8000000000000007"/><line x1="1103.3" y1="227.2" x2="1089.7" y2="235.0" stroke="#5e6262" stroke-width="7.4"/><line x1="1103.2" y1="226.9" x2="1089.6" y2="234.8" stroke="#8d9292" stroke-width="5.9"/><line x1="1103.0" y1="226.5" x2="1089.4" y2="234.4" stroke="#a6abab" stroke-width="2.8000000000000007"/>
<line x1="1117.0" y1="219.3" x2="1128.8" y2="227.9" stroke="#5e6262" stroke-width="7.4"/><line x1="1117.2" y1="219.1" x2="1129.0" y2="227.7" stroke="#8d9292" stroke-width="5.9"/><line x1="1117.4" y1="218.7" x2="1129.3" y2="227.3" stroke="#a6abab" stroke-width="2.8000000000000007"/><line x1="1128.8" y1="227.9" x2="1140.7" y2="236.5" stroke="#73b4b9" stroke-width="7.4"/><line x1="1129.0" y1="227.7" x2="1140.9" y2="236.3" stroke="#a5e3e6" stroke-width="5.9"/><line x1="1129.3" y1="227.3" x2="1141.1" y2="235.9" stroke="#c4f4f5" stroke-width="2.8000000000000007"/>
<line x1="1089.7" y1="235.0" x2="1077.7" y2="227.2" stroke="#5e6262" stroke-width="7.4"/><line x1="1089.9" y1="234.8" x2="1077.8" y2="226.9" stroke="#8d9292" stroke-width="5.9"/><line x1="1090.1" y1="234.4" x2="1078.0" y2="226.6" stroke="#a6abab" stroke-width="2.8000000000000007"/><line x1="1077.7" y1="227.2" x2="1065.6" y2="219.3" stroke="#73b4b9" stroke-width="7.4"/><line x1="1077.8" y1="226.9" x2="1065.8" y2="219.1" stroke="#a5e3e6" stroke-width="5.9"/><line x1="1078.0" y1="226.6" x2="1066.0" y2="218.7" stroke="#c4f4f5" stroke-width="2.8000000000000007"/>
<circle cx="1117.0" cy="219.3" r="8.2" fill="url(#gC)"/>
<line x1="1117.0" y1="219.3" x2="1119.3" y2="210.2" stroke="#5e6262" stroke-width="7.4"/><line x1="1116.7" y1="219.2" x2="1119.1" y2="210.2" stroke="#8d9292" stroke-width="5.9"/><line x1="1116.3" y1="219.1" x2="1118.7" y2="210.1" stroke="#a6abab" stroke-width="2.8000000000000007"/><line x1="1119.3" y1="210.2" x2="1121.7" y2="201.2" stroke="#73b4b9" stroke-width="7.4"/><line x1="1119.1" y1="210.2" x2="1121.4" y2="201.1" stroke="#a5e3e6" stroke-width="5.9"/><line x1="1118.7" y1="210.1" x2="1121.0" y2="201.0" stroke="#c4f4f5" stroke-width="2.8000000000000007"/>
<circle cx="1121.7" cy="201.2" r="8.6" fill="url(#gF)"/>
<circle cx="1140.7" cy="236.5" r="8.6" fill="url(#gF)"/>
<circle cx="1065.6" cy="219.3" r="8.6" fill="url(#gF)"/>
<circle cx="1089.7" cy="235.0" r="8.2" fill="url(#gC)"/>
<line x1="1089.7" y1="235.0" x2="1090.8" y2="242.9" stroke="#5e6262" stroke-width="7.4"/><line x1="1089.4" y1="235.0" x2="1090.6" y2="242.9" stroke="#8d9292" stroke-width="5.9"/><line x1="1089.0" y1="235.1" x2="1090.2" y2="243.0" stroke="#a6abab" stroke-width="2.8000000000000007"/><line x1="1090.8" y1="242.9" x2="1092.0" y2="250.8" stroke="#a4a4a4" stroke-width="7.4"/><line x1="1090.6" y1="242.9" x2="1091.7" y2="250.8" stroke="#e6e6e6" stroke-width="5.9"/><line x1="1090.2" y1="243.0" x2="1091.3" y2="250.9" stroke="#fbfbfb" stroke-width="2.8000000000000007"/>
<circle cx="1092.0" cy="250.8" r="8.3" fill="url(#gH)"/>
</g>
<g filter="url(#soft2)">
<line x1="1038.9" y1="100.1" x2="1058.2" y2="119.8" stroke="#f5141c" stroke-width="2.3" stroke-dasharray="5.7 1.45"/>
<line x1="1037.2" y1="155.5" x2="1067.6" y2="167.8" stroke="#f5141c" stroke-width="2.3" stroke-dasharray="5.3 1.5"/>
</g>
<text x="987.6" y="305.7" font-size="28.6" fill="#ff0000">O<tspan font-size="19.2" dy="6.1">(DME)</tspan><tspan dy="-6.1">----H</tspan><tspan font-size="19.2" dy="6.1">(TTE)</tspan></text>
</g>
<g id="panelD">
<text x="24" y="413" font-size="36" text-anchor="start" fill="#000" >d</text>
<ellipse cx="0" cy="0" rx="26.4" ry="12.6" transform="translate(211.7,434.1) rotate(-41)" fill="url(#gRed)" />
<ellipse cx="0" cy="0" rx="26.4" ry="12.6" transform="translate(286.4,486.1) rotate(-44)" fill="url(#gRed)" />
<ellipse cx="0" cy="0" rx="26.4" ry="12.6" transform="translate(127.8,488.3) rotate(0)" fill="url(#gRed)" />
<ellipse cx="0" cy="0" rx="26.4" ry="12.6" transform="translate(206.1,487.0) rotate(0)" fill="url(#gRed)" />
<ellipse cx="0" cy="0" rx="26.4" ry="12.6" transform="translate(131.8,576.9) rotate(0)" fill="url(#gRed)" />
<ellipse cx="0" cy="0" rx="26.4" ry="12.6" transform="translate(211.1,599.9) rotate(63)" fill="url(#gRed)" />
<ellipse cx="0" cy="0" rx="26.4" ry="12.6" transform="translate(287.0,572.3) rotate(63.5)" fill="url(#gRed)" />
<line x1="220.1" y1="443.2" x2="252.8" y2="446.3" stroke="#3b6fc6" stroke-width="2.4" stroke-dasharray="5.8 2.7"/>
<line x1="262.4" y1="455.9" x2="279.2" y2="477.7" stroke="#3b6fc6" stroke-width="2.4" stroke-dasharray="5.8 2.7"/>
<line x1="127.8" y1="500.1" x2="126.8" y2="525.0" stroke="#3b6fc6" stroke-width="2.4" stroke-dasharray="5.8 2.7"/>
<line x1="126.8" y1="536.8" x2="129.9" y2="564.8" stroke="#3b6fc6" stroke-width="2.4" stroke-dasharray="5.8 2.7"/>
<line x1="207.1" y1="499.5" x2="210.8" y2="518.1" stroke="#3b6fc6" stroke-width="2.4" stroke-dasharray="5.8 2.7"/>
<line x1="221.1" y1="594.3" x2="245.0" y2="595.6" stroke="#3b6fc6" stroke-width="2.4" stroke-dasharray="5.8 2.7"/>
<line x1="256.5" y1="590.0" x2="276.4" y2="578.5" stroke="#3b6fc6" stroke-width="2.4" stroke-dasharray="5.8 2.7"/>
<ellipse cx="0" cy="0" rx="21.7" ry="19.6" transform="translate(278.0,418.6) rotate(-22)" fill="url(#gGold)" /><rect x="274.6" y="417.0" width="8.2" height="2.5" fill="#111"/>
<ellipse cx="0" cy="0" rx="21.7" ry="19.6" transform="translate(84.8,533.4) rotate(-22)" fill="url(#gGold)" /><rect x="81.4" y="531.8" width="8.2" height="2.5" fill="#111"/>
<ellipse cx="0" cy="0" rx="21.7" ry="19.6" transform="translate(173.5,544.9) rotate(-22)" fill="url(#gGold)" /><rect x="170.1" y="543.2" width="8.2" height="2.5" fill="#111"/>
<ellipse cx="0" cy="0" rx="21.7" ry="19.6" transform="translate(236.6,553.0) rotate(-22)" fill="url(#gGold)" /><rect x="233.2" y="551.4" width="8.2" height="2.5" fill="#111"/>
<circle cx="257.8" cy="450.9" r="6.9" fill="#5c2d91"/><path d="M254.3,450.9 H261.3 M257.8,447.4 V454.4" stroke="#fff" stroke-width="1.45" fill="none"/>
<circle cx="126.8" cy="530.9" r="6.9" fill="#5c2d91"/><path d="M123.3,530.9 H130.3 M126.8,527.4 V534.4" stroke="#fff" stroke-width="1.45" fill="none"/>
<circle cx="211.7" cy="523.4" r="6.9" fill="#5c2d91"/><path d="M208.2,523.4 H215.2 M211.7,519.9 V526.9" stroke="#fff" stroke-width="1.45" fill="none"/>
<circle cx="250.9" cy="592.8" r="6.9" fill="#5c2d91"/><path d="M247.4,592.8 H254.4 M250.9,589.3 V596.3" stroke="#fff" stroke-width="1.45" fill="none"/>
<ellipse cx="0" cy="0" rx="26.4" ry="12.8" transform="translate(535.1,429.2) rotate(0)" fill="#fcd5c9" stroke="#787878" stroke-width="1.1" stroke-dasharray="3.6 2.3"/>
<ellipse cx="0" cy="0" rx="26.4" ry="12.8" transform="translate(456.5,475.8) rotate(-63)" fill="#fcd5c9" stroke="#787878" stroke-width="1.1" stroke-dasharray="3.6 2.3"/>
<ellipse cx="0" cy="0" rx="26.4" ry="12.8" transform="translate(610.0,480.8) rotate(85)" fill="#fcd5c9" stroke="#787878" stroke-width="1.1" stroke-dasharray="3.6 2.3"/>
<ellipse cx="0" cy="0" rx="26.4" ry="12.8" transform="translate(462.8,563.0) rotate(56)" fill="#fcd5c9" stroke="#787878" stroke-width="1.1" stroke-dasharray="3.6 2.3"/>
<ellipse cx="0" cy="0" rx="26.4" ry="12.8" transform="translate(607.5,567.3) rotate(-46.5)" fill="#fcd5c9" stroke="#787878" stroke-width="1.1" stroke-dasharray="3.6 2.3"/>
<ellipse cx="0" cy="0" rx="26.4" ry="12.8" transform="translate(535.1,598.8) rotate(0)" fill="#fcd5c9" stroke="#787878" stroke-width="1.1" stroke-dasharray="3.6 2.3"/>
<ellipse cx="0" cy="0" rx="26.4" ry="12.6" transform="translate(533.7,482.1) rotate(0)" fill="url(#gRed)" />
<ellipse cx="0" cy="0" rx="26.4" ry="12.6" transform="translate(500.8,532.4) rotate(38)" fill="url(#gRed)" />
<ellipse cx="0" cy="0" rx="26.4" ry="12.6" transform="translate(566.6,533.9) rotate(-36)" fill="url(#gRed)" />
<line x1="534.6" y1="509.8" x2="533.7" y2="494.4" stroke="#3b6fc6" stroke-width="2.4" stroke-dasharray="8 3.3"/>
<line x1="528.8" y1="518.7" x2="511.7" y2="526.7" stroke="#3b6fc6" stroke-width="2.4" stroke-dasharray="8 3.3"/>
<line x1="540.3" y1="518.7" x2="557.2" y2="528.7" stroke="#3b6fc6" stroke-width="2.4" stroke-dasharray="8 3.3"/>
<circle cx="534.6" cy="515.3" r="6.9" fill="#5c2d91"/><path d="M531.1,515.3 H538.1 M534.6,511.8 V518.8" stroke="#fff" stroke-width="1.45" fill="none"/>
<ellipse cx="0" cy="0" rx="21.7" ry="19.6" transform="translate(639.5,525.3) rotate(-22)" fill="url(#gGold)" /><rect x="636.1" y="523.6" width="8.2" height="2.5" fill="#111"/>
<line x1="855.3" y1="424.3" x2="855.3" y2="442.0" stroke="#ff0606" stroke-width="3.5" stroke-dasharray="10.4 3.4"/>
<line x1="768.1" y1="470.6" x2="785.8" y2="481.0" stroke="#ff0606" stroke-width="3.5" stroke-dasharray="10.4 3.4"/>
<line x1="942.8" y1="466.0" x2="927.6" y2="475.2" stroke="#ff0606" stroke-width="3.5" stroke-dasharray="10.4 3.4"/>
<line x1="774.2" y1="570.9" x2="790.1" y2="561.2" stroke="#ff0606" stroke-width="3.5" stroke-dasharray="10.4 3.4"/>
<line x1="940.4" y1="578.2" x2="924.5" y2="568.5" stroke="#ff0606" stroke-width="3.5" stroke-dasharray="10.4 3.4"/>
<line x1="855.9" y1="613.3" x2="855.9" y2="595.6" stroke="#ff0606" stroke-width="3.5" stroke-dasharray="10.4 3.4"/>
<ellipse cx="0" cy="0" rx="36" ry="10" transform="translate(856.5,414.8) rotate(0)" fill="url(#gBlu)" />
<ellipse cx="0" cy="0" rx="36" ry="10" transform="translate(760.5,466.3) rotate(-60.5)" fill="url(#gBlu)" />
<ellipse cx="0" cy="0" rx="36" ry="10" transform="translate(951.0,460.5) rotate(60)" fill="url(#gBlu)" />
<ellipse cx="0" cy="0" rx="36" ry="10" transform="translate(765.7,574.9) rotate(60)" fill="url(#gBlu)" />
<ellipse cx="0" cy="0" rx="36" ry="10" transform="translate(948.9,582.5) rotate(-60)" fill="url(#gBlu)" />
<ellipse cx="0" cy="0" rx="36" ry="10" transform="translate(855.9,623.0) rotate(0)" fill="url(#gBlu)" />
<ellipse cx="0" cy="0" rx="26.4" ry="12.7" transform="translate(856.5,454.8) rotate(0)" fill="url(#gRed)" stroke="#7f3a0e" stroke-width="1.6"/>
<ellipse cx="0" cy="0" rx="26.4" ry="12.7" transform="translate(794.9,486.5) rotate(-60)" fill="url(#gRed)" stroke="#7f3a0e" stroke-width="1.6"/>
<ellipse cx="0" cy="0" rx="26.4" ry="12.7" transform="translate(916.6,481.0) rotate(60)" fill="url(#gRed)" stroke="#7f3a0e" stroke-width="1.6"/>
<ellipse cx="0" cy="0" rx="26.4" ry="12.7" transform="translate(800.7,555.4) rotate(60)" fill="url(#gRed)" stroke="#7f3a0e" stroke-width="1.6"/>
<ellipse cx="0" cy="0" rx="26.4" ry="12.7" transform="translate(913.8,562.7) rotate(-60)" fill="url(#gRed)" stroke="#7f3a0e" stroke-width="1.6"/>
<ellipse cx="0" cy="0" rx="26.4" ry="12.7" transform="translate(856.5,583.1) rotate(0)" fill="url(#gRed)" stroke="#7f3a0e" stroke-width="1.6"/>
<circle cx="855.9" cy="518.5" r="6.7" fill="#5c2d91"/><path d="M852.4,518.5 H859.4 M855.9,515.0 V522.0" stroke="#fff" stroke-width="1.45" fill="none"/>
<ellipse cx="0" cy="0" rx="21.7" ry="19.6" transform="translate(900.7,523.0) rotate(-22)" fill="url(#gGold)" /><rect x="897.3" y="521.4" width="8.2" height="2.5" fill="#111"/>
<circle cx="1085.4" cy="407.8" r="7" fill="#5c2d91"/><path d="M1081.9,407.8 H1088.9 M1085.4,404.3 V411.3" stroke="#fff" stroke-width="1.45" fill="none"/>
<ellipse cx="0" cy="0" rx="21.7" ry="19.6" transform="translate(1086,458.9) rotate(-22)" fill="url(#gGold)" /><rect x="1082.6" y="457.2" width="8.2" height="2.5" fill="#111"/>
<ellipse cx="0" cy="0" rx="26.4" ry="12.6" transform="translate(1085.4,512.6) rotate(0)" fill="url(#gRed)" />
<ellipse cx="0" cy="0" rx="26.4" ry="12.8" transform="translate(1085.4,560.4) rotate(0)" fill="#fcd5c9" stroke="#787878" stroke-width="1.1" stroke-dasharray="3.6 2.3"/>
<ellipse cx="0" cy="0" rx="36" ry="10" transform="translate(1085.4,619.2) rotate(0)" fill="url(#gBlu)" />
<text x="1148" y="416.9" font-size="22.4" fill="#0d0d0d">Li<tspan font-size="12" font-weight="bold" dy="-8.4">+</tspan></text>
<text x="1148" y="468" font-size="22.4" text-anchor="start" fill="#0d0d0d" >Anion</text>
<text x="1148" y="520.4" font-size="22.4" text-anchor="start" fill="#0d0d0d" >Solvent</text>
<text x="1148" y="568.1" font-size="22.4" text-anchor="start" fill="#0d0d0d" >Free solvent</text>
<text x="1148" y="615.8" font-size="22.4" text-anchor="start" fill="#0d0d0d" >Molecular</text>
<text x="1148" y="642.7" font-size="22.4" text-anchor="start" fill="#0d0d0d" >anchor</text>
<path d="M76.7,713.6 L94.9,695.6 L94.9,704.3 L976.2,704.3 L976.2,695.6 L994.2,713.6 L976.2,731.5 L976.2,722.6 L94.9,722.6 L94.9,731.5 Z" fill="url(#gArrow)"/>
<text x="177.6" y="688.0" font-size="27.3" text-anchor="start" fill="#000" >HCE</text>
<text x="517.3" y="687.9" font-size="27.3" text-anchor="start" fill="#000" >DE</text>
<text x="825.2" y="687.9" font-size="27.3" text-anchor="start" fill="#000" >MADE</text>
<text x="47.0" y="765.1" font-size="27.25" fill="#111">Li<tspan font-size="15" font-weight="bold" dy="-9.8">+</tspan><tspan dy="9.8">-coordination strategy</tspan></text>
<text x="696.9" y="773.7" font-size="27.4" text-anchor="start" fill="#111" >Molecular-anchoring strategy</text>
</g>
</svg>
</body>
</html>
